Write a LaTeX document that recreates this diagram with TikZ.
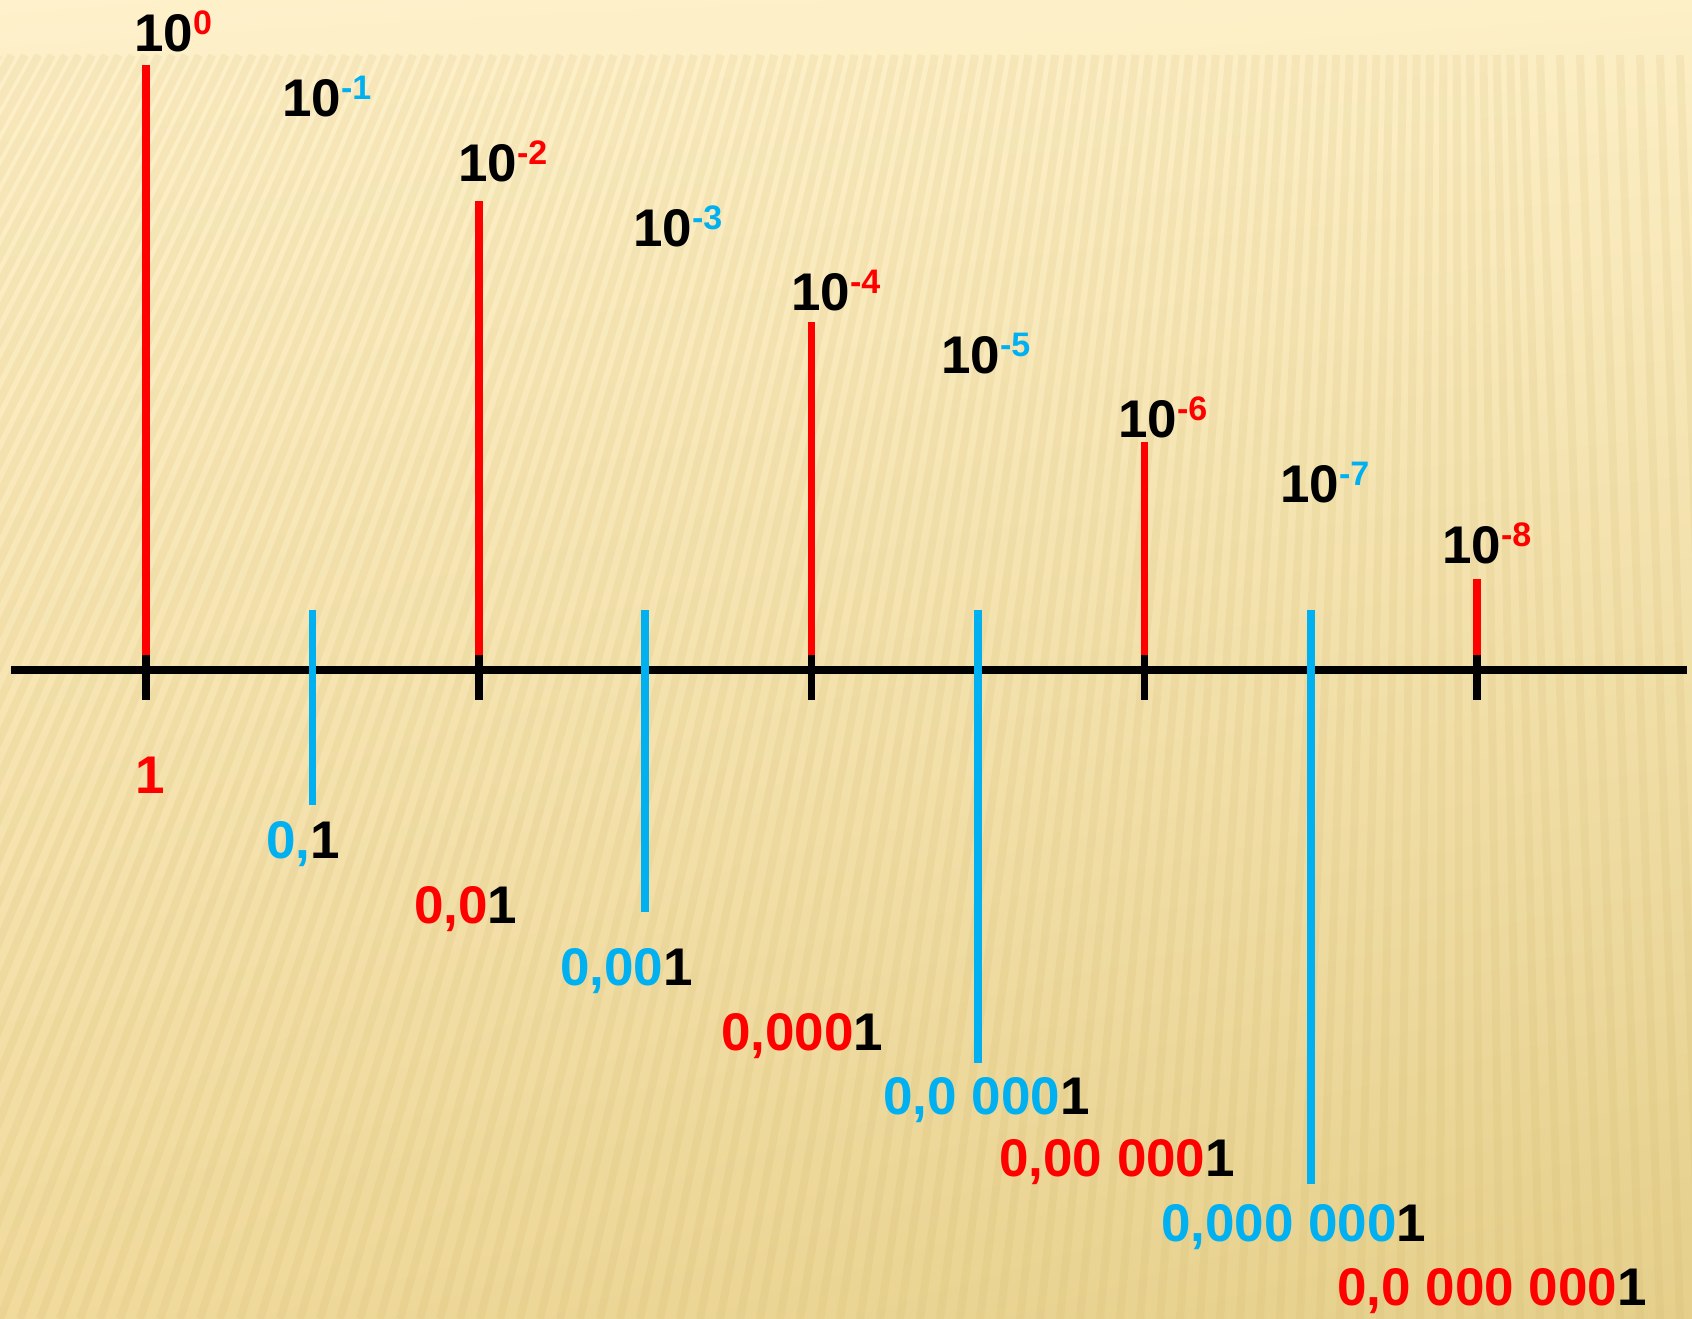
\documentclass[tikz,border=0pt]{standalone}
\usepackage{fontspec}
\usetikzlibrary{shadings}
\setmainfont{Liberation Sans}
\definecolor{myred}{HTML}{FF0000}
\definecolor{myblue}{HTML}{00B0F0}
\definecolor{bgTL}{HTML}{FEF1CB}
\definecolor{bgTR}{HTML}{FDEFC6}
\definecolor{bgBL}{HTML}{F0DA9C}
\definecolor{bgBR}{HTML}{E5CF8B}
\definecolor{stripecol}{HTML}{C9AC5A}
\newcommand\supr[2]{\raisebox{17pt}{\fontsize{34}{40}\selectfont\color{#1}#2}}
\tikzset{
  axisline/.style={line width=8pt, black},
  redtick/.style={line width=7.5pt, myred},
  bluetick/.style={line width=7.5pt, myblue},
  blacktick/.style={line width=7.5pt, black},
  stripe/.style={line width=8pt, stripecol, opacity=0.12},
  lab/.style={inner sep=0pt, anchor=base west, font=\fontsize{53}{60}\selectfont\bfseries},
}
\begin{document}
\begin{tikzpicture}[x=1pt,y=-1pt]
\useasboundingbox (0,0) rectangle (1692,1319);
% background
\shade[upper left=bgTL, upper right=bgTR, lower left=bgBL, lower right=bgBR] (0,0) rectangle (1692,1319);
\begin{scope}
\clip (0,55) rectangle (1692,1319);
\foreach \i in {-45,...,90} {
  \pgfmathsetmacro{\xb}{\i*20}
  \pgfmathsetmacro{\sh}{max(-40,480*(1-\xb/1450))}
  \draw[stripe] (\xb,1319) -- (\xb+\sh,55);
}
\end{scope}
% coordinates
\foreach \k/\x in {0/146,1/312.4,2/478.8,3/645.2,4/811.6,5/978,6/1144.4,7/1310.8,8/1477.2} {
  \coordinate (a\k) at (\x,670);
}
\coordinate (axL) at (11,670);
\coordinate (axR) at (1687,670);
% axis
\draw[axisline] (axL) -- (axR);
% red ticks (above)
\foreach \k/\top in {0/65,2/201,4/322,6/442,8/579} {
  \draw[redtick] (a\k |- 0,\top) -- (a\k |- 0,655);
  \draw[blacktick] (a\k |- 0,655) -- (a\k |- 0,700);
}
% blue ticks (below)
\foreach \k/\bot in {1/805,3/912,5/1063,7/1184} {
  \draw[bluetick] (a\k |- 0,610) -- (a\k |- 0,\bot);
}
% top labels
\node[lab] (t0) at (134,52)    {10\supr{myred}{0}};
\node[lab] (t1) at (282,116.5) {10\supr{myblue}{-1}};
\node[lab] (t2) at (458,181)   {10\supr{myred}{-2}};
\node[lab] (t3) at (633,246)   {10\supr{myblue}{-3}};
\node[lab] (t4) at (791,310)   {10\supr{myred}{-4}};
\node[lab] (t5) at (941,373)   {10\supr{myblue}{-5}};
\node[lab] (t6) at (1118,437)  {10\supr{myred}{-6}};
\node[lab] (t7) at (1280,502)  {10\supr{myblue}{-7}};
\node[lab] (t8) at (1442,563)  {10\supr{myred}{-8}};
% bottom labels
\node[lab] (b0) at (135,793)  {\color{myred}1};
\node[lab] (b1) at (266,858)  {\color{myblue}0,\color{black}1};
\node[lab] (b2) at (414,923)  {\color{myred}0,0\color{black}1};
\node[lab] (b3) at (560,985)  {\color{myblue}0,00\color{black}1};
\node[lab] (b4) at (721,1050) {\color{myred}0,000\color{black}1};
\node[lab] (b5) at (883,1114) {\color{myblue}0,0 000\color{black}1};
\node[lab] (b6) at (999,1176) {\color{myred}0,00 000\color{black}1};
\node[lab] (b7) at (1161,1241) {\color{myblue}0,000 000\color{black}1};
\node[lab] (b8) at (1337,1305) {\color{myred}0,0 000 000\color{black}1};
\end{tikzpicture}
\end{document}
